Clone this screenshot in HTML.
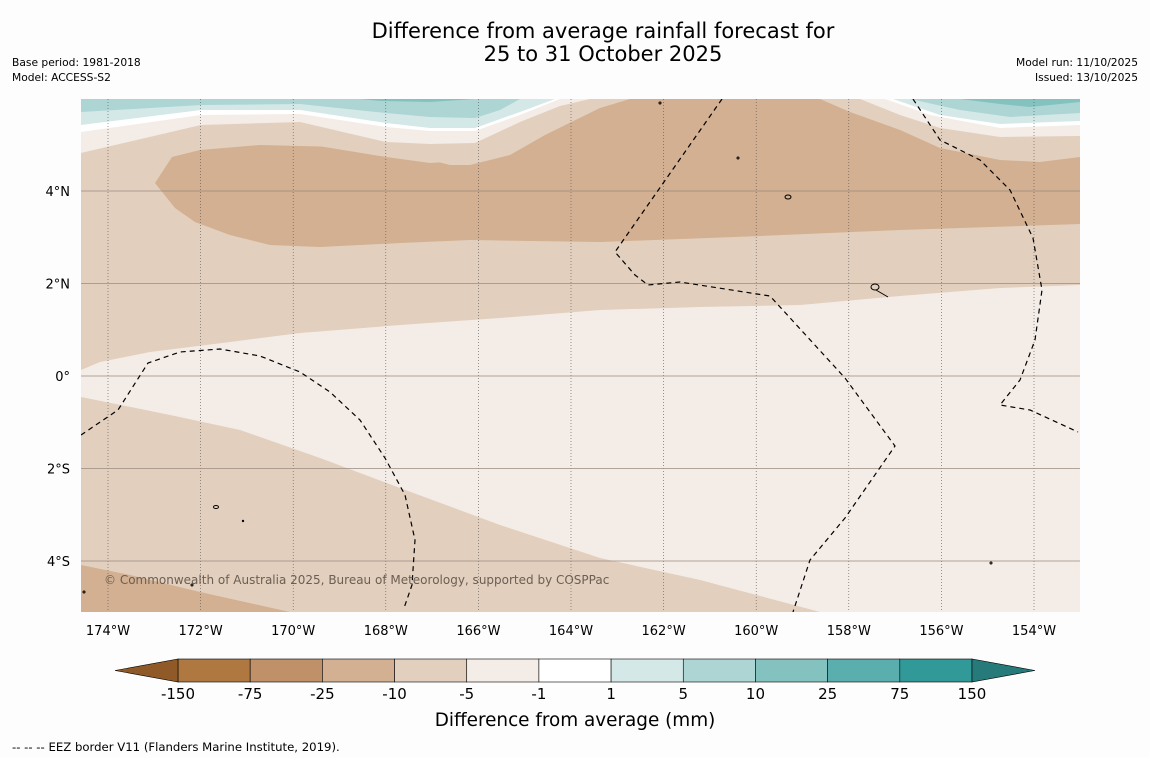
<!DOCTYPE html>
<html><head><meta charset="utf-8"><style>
body{margin:0;background:#fff;width:1150px;height:758px;overflow:hidden;font-family:"Liberation Sans","DejaVu Sans",sans-serif}
svg text{font-family:"DejaVu Sans","Liberation Sans",sans-serif}
</style></head><body>
<svg width="1150" height="758" viewBox="0 0 1150 758" id="chart">
<rect width="1150" height="758" fill="#fdfdfd"/>
<text x="603" y="38" text-anchor="middle" font-size="21">Difference from average rainfall forecast for</text>
<text x="603" y="61" text-anchor="middle" font-size="21">25 to 31 October 2025</text>
<text x="12" y="66" font-size="10.7">Base period: 1981-2018</text>
<text x="12" y="81" font-size="10.7">Model: ACCESS-S2</text>
<text x="1138" y="66" font-size="10.7" text-anchor="end">Model run: 11/10/2025</text>
<text x="1138" y="81" font-size="10.7" text-anchor="end">Issued: 13/10/2025</text>
<defs><clipPath id="mapclip"><rect x="81" y="99" width="999" height="513"/></clipPath></defs>
<g id="map" clip-path="url(#mapclip)">
<rect x="81" y="99" width="999" height="513" fill="#e2cfbe"/>
<polygon fill="#d2b091" points="155,183 172,157 200,150 260,145 340,147 410,155 450,165 470,165 510,155 545,135 600,108 630,99 1080,99 1080,224 900,230 760,236 600,242 470,240 400,243 320,247 270,245 230,235 195,222 175,208"/>
<polygon fill="#e2cfbe" points="81,99 81,160 201,145 300,143 386,157 430,163 475,160 520,140 560,118 600,104 622,99"/>
<polygon fill="#f4ece6" points="81,99 81,153 201,125 300,122 386,142 430,144 475,143 520,122 560,106 590,99"/>
<polygon fill="#ffffff" points="81,99 81,132 201,115 300,114 386,127 430,131 475,131 520,115 560,99"/>
<polygon fill="#d4e8e7" points="81,99 81,125 201,110 300,110 386,123 430,128 475,128 520,112 555,99"/>
<polygon fill="#acd5d4" points="81,99 81,112 201,105 300,104 386,113 430,117 475,118 500,110 520,99"/>
<polygon fill="#84c2c0" points="360,99 380,101 430,102 475,99"/>
<polygon fill="#e2cfbe" points="820,99 850,112 900,130 940,148 1000,160 1040,162 1080,157 1080,99"/>
<polygon fill="#f4ece6" points="860,99 900,115 940,128 1000,137 1080,136 1080,99"/>
<polygon fill="#ffffff" points="885,99 930,115 1000,128 1080,125 1080,99"/>
<polygon fill="#d4e8e7" points="893,99 940,115 1000,124 1080,121 1080,99"/>
<polygon fill="#acd5d4" points="910,99 960,110 1010,117 1080,113 1080,99"/>
<polygon fill="#84c2c0" points="960,99 1000,104 1030,107 1080,102 1080,99"/>
<polygon fill="#f4ece6" points="81,370 100,362 150,352 230,342 300,333 400,325 500,318 600,310 700,307 800,305 900,296 1000,288 1080,285 1080,612 820,612 700,580 600,558 500,525 400,488 320,458 240,430 170,415 81,397"/>
<polygon fill="#d2b091" points="81,565 130,575 200,592 290,612 81,612"/>
<g id="grid"></g>
<g fill="none" stroke="#000" stroke-width="1.2" stroke-dasharray="5,4">
<polyline points="722,99 615,252 635,275 648,285 680,282 770,296 845,378 895,446 845,518 810,560 793,612"/>
<polyline points="913,99 940,140 980,160 1010,190 1033,238 1042,290 1035,340 1020,380 1000,405 1030,410 1078,432"/>
<polyline points="81,435 118,410 148,363 180,352 220,349 260,356 300,372 330,392 360,420 385,458 405,495 415,540 412,585 404,608"/>
</g>
<g fill="none" stroke="#000" stroke-width="1">
<ellipse cx="788" cy="197" rx="3" ry="2"/><ellipse cx="875" cy="287" rx="4" ry="3"/><path d="M876 290 L888 297"/>
<ellipse cx="216" cy="507" rx="2.5" ry="1.5"/><circle cx="192" cy="585" r="1"/><circle cx="660" cy="103" r="1"/><circle cx="738" cy="158" r="1"/><circle cx="991" cy="563" r="1"/><circle cx="243" cy="521" r="0.7"/><circle cx="84" cy="592" r="1"/>
</g>
<text x="104" y="584" font-size="12" fill="#6b5e52">© Commonwealth of Australia 2025, Bureau of Meteorology, supported by COSPPac</text>
</g>
<g id="axes"></g>
<g id="cbar"></g>
<text x="575" y="726" text-anchor="middle" font-size="18.4">Difference from average (mm)</text>
<text x="12" y="751" font-size="11.7">--  --  -- EEZ border V11 (Flanders Marine Institute, 2019).</text>
</svg>
<script>
const lonTicks=[-174,-172,-170,-168,-166,-164,-162,-160,-158,-156,-154];
const latTicks=[4,2,0,-2,-4];
const cbarLabels=["-150","-75","-25","-10","-5","-1","1","5","10","25","75","150"];
const cbarColors=["#ae7840","#c09169","#d2b091","#e2cfbe","#f4ece6","#ffffff","#d4e8e7","#acd5d4","#84c2c0","#5aaead","#319998"];
const cbarExtendColors=["#8f5a28","#267a7a"];
const NS="http://www.w3.org/2000/svg";
const xLon=l=>108+(l+174)*46.3;
const yLat=l=>376-l*46.25;
function mk(t,a,p){const e=document.createElementNS(NS,t);for(const k in a)e.setAttribute(k,a[k]);p.appendChild(e);return e;}
const grid=document.getElementById('grid'),axes=document.getElementById('axes'),cb=document.getElementById('cbar');
lonTicks.forEach(l=>{const x=xLon(l);
 const g=mk('line',{x1:x,x2:x,y1:99,y2:612,stroke:'#555','stroke-width':0.6,'stroke-dasharray':'1,2'},grid);
 
 
 const t=mk('text',{x:x,y:635,'text-anchor':'middle','font-size':13},axes);t.textContent=Math.abs(l)+'°W';
 
 
});
latTicks.forEach(l=>{const y=yLat(l);
 const g=mk('line',{x1:81,x2:1080,y1:y,y2:y,stroke:'#9a8c80','stroke-width':0.7},grid);
 
 
 const t=mk('text',{x:70,y:y+5,'text-anchor':'end','font-size':13},axes);t.textContent=l===0?'0°':Math.abs(l)+'°'+(l>0?'N':'S');
 
 
});
const cx0=178,cx1=972,cy=659,ch=23,n=cbarColors.length,w=(cx1-cx0)/n;
cbarColors.forEach((c,i)=>{const r=mk('rect',{x:cx0+i*w,y:cy,width:w,height:ch,fill:c,stroke:'#000','stroke-width':0.6},cb);
 
 });
const tl=mk('polygon',{points:`115,${cy+ch/2} ${cx0},${cy} ${cx0},${cy+ch}`,fill:cbarExtendColors[0],stroke:'#000','stroke-width':0.6},cb);


const tr=mk('polygon',{points:`1035,${cy+ch/2} ${cx1},${cy} ${cx1},${cy+ch}`,fill:cbarExtendColors[1],stroke:'#000','stroke-width':0.6},cb);


cbarLabels.forEach((s,i)=>{const t=mk('text',{x:cx0+i*w,y:699,'text-anchor':'middle','font-size':15},cb);t.textContent=s;
 
 });
</script>
</body></html>
